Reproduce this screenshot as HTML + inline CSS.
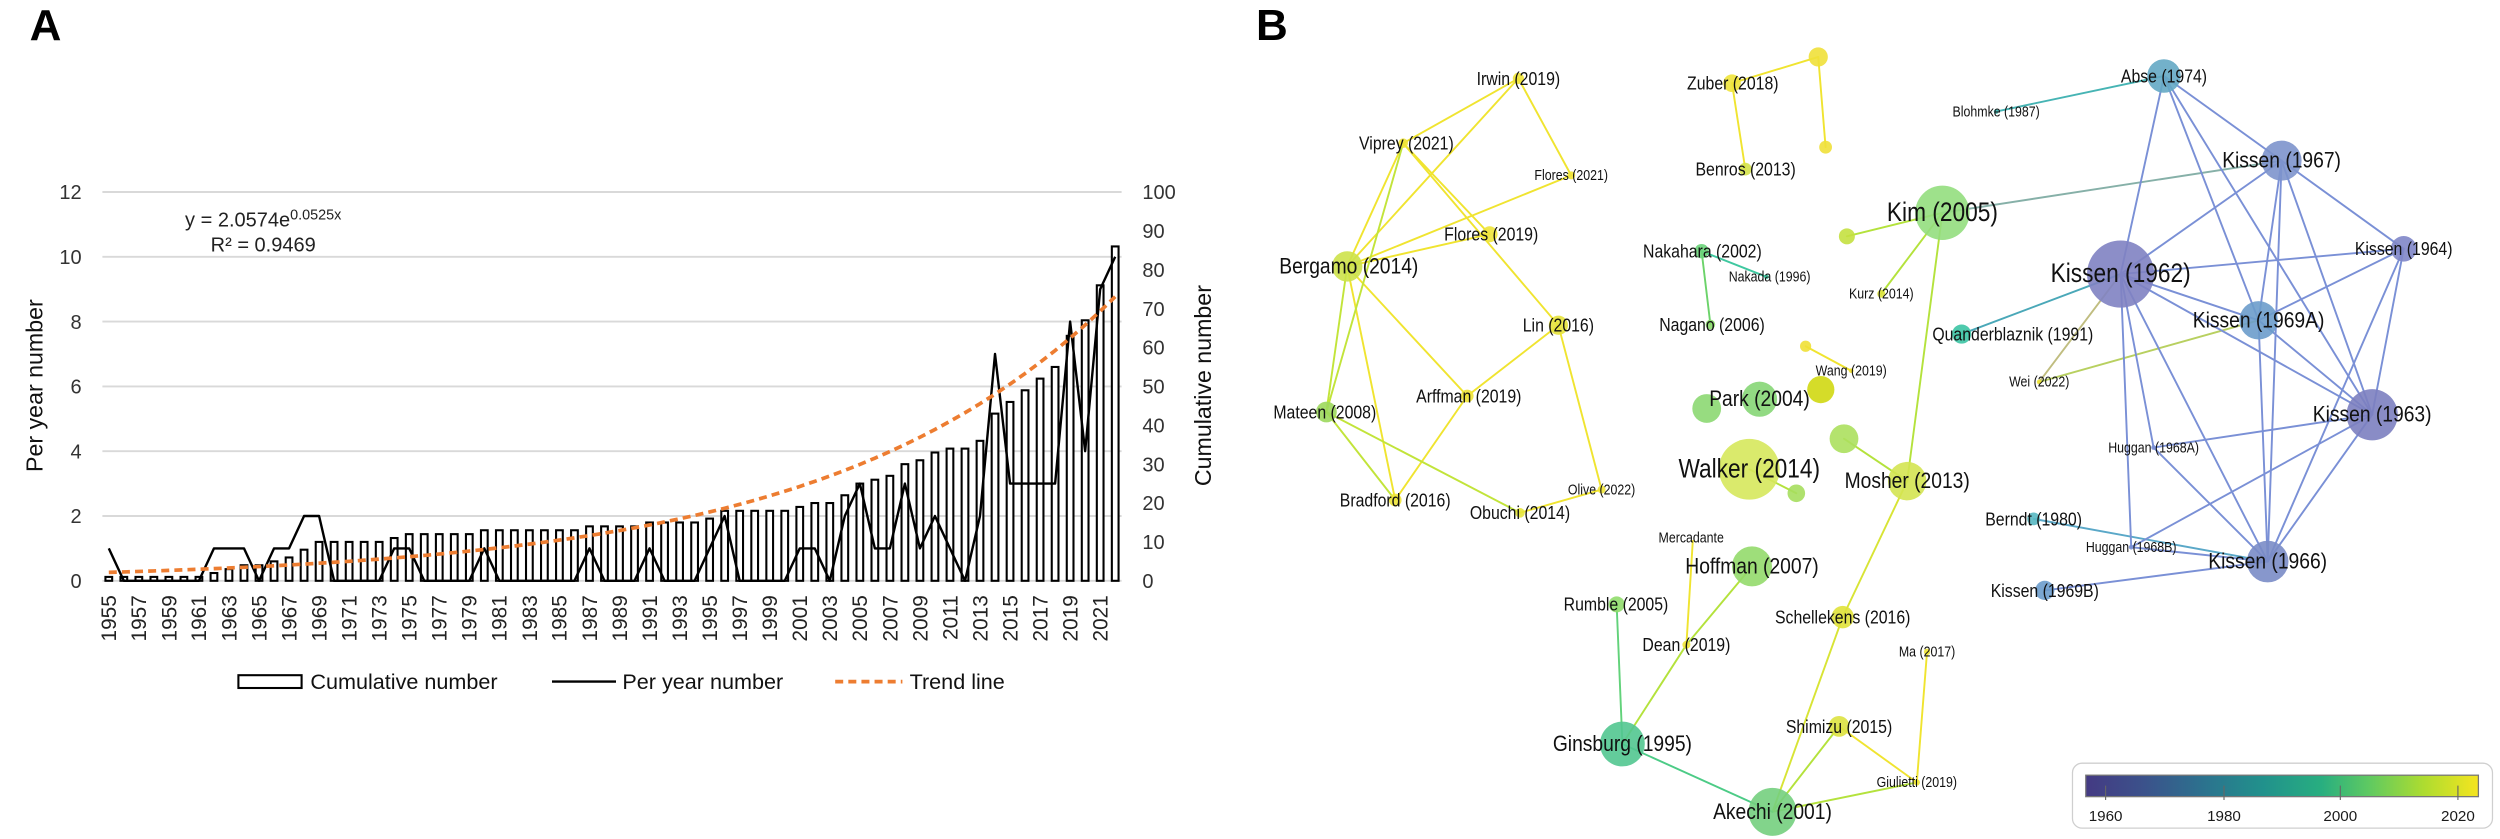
<!DOCTYPE html>
<html><head><meta charset="utf-8">
<style>
html,body{margin:0;padding:0;background:#fff;}
svg{display:block;}
text{font-family:"Liberation Sans",Arial,sans-serif;fill:#1a1a1a;}
.n text{font-family:"Liberation Sans Narrow","Liberation Sans",sans-serif;text-anchor:middle;dominant-baseline:central;fill:#111;transform-box:fill-box;transform-origin:center;transform:scaleX(0.86);}
.big{font-size:16.5px}.med{font-size:14px}.sm{font-size:11.5px}.tn{font-size:9px}
.ax{font-size:12.5px;fill:#333}
.yr{font-size:13px;fill:#222}
.lg{font-size:13.5px;fill:#111}
</style></head>
<body>
<svg width="2500" height="839" viewBox="0 0 1562.5 524.375" xmlns="http://www.w3.org/2000/svg">
<rect width="1562.5" height="524.375" fill="#fff"/>
<!-- Panel A -->
<text x="18.5" y="25" style="font-size:27.5px;font-weight:bold;fill:#000">A</text>
<g stroke="#d9d9d9" stroke-width="1.2">
<line x1="64" x2="701" y1="120" y2="120"/><line x1="64" x2="701" y1="160.5" y2="160.5"/>
<line x1="64" x2="701" y1="201" y2="201"/><line x1="64" x2="701" y1="241.5" y2="241.5"/>
<line x1="64" x2="701" y1="282" y2="282"/><line x1="64" x2="701" y1="322.5" y2="322.5"/>
<line x1="64" x2="701" y1="363" y2="363"/>
</g>
<g class="ax" text-anchor="end">
<text class="ax" x="51" y="124.5">12</text><text class="ax" x="51" y="165">10</text>
<text class="ax" x="51" y="205.5">8</text><text class="ax" x="51" y="246">6</text>
<text class="ax" x="51" y="286.5">4</text><text class="ax" x="51" y="327">2</text>
<text class="ax" x="51" y="367.5">0</text>
</g>
<g>
<text class="ax" x="714" y="124.5">100</text><text class="ax" x="714" y="148.8">90</text>
<text class="ax" x="714" y="173.1">80</text><text class="ax" x="714" y="197.4">70</text>
<text class="ax" x="714" y="221.7">60</text><text class="ax" x="714" y="246">50</text>
<text class="ax" x="714" y="270.3">40</text><text class="ax" x="714" y="294.6">30</text>
<text class="ax" x="714" y="318.9">20</text><text class="ax" x="714" y="343.2">10</text>
<text class="ax" x="714" y="367.5">0</text>
</g>
<text transform="translate(26.5,241) rotate(-90)" text-anchor="middle" style="font-size:14.5px;fill:#111">Per year number</text>
<text transform="translate(757,241) rotate(-90)" text-anchor="middle" style="font-size:14.5px;fill:#111">Cumulative number</text>
<text x="164.5" y="141.7" text-anchor="middle" style="font-size:12.5px;fill:#222">y = 2.0574e<tspan dy="-4.5" style="font-size:9px">0.0525x</tspan></text>
<text x="164.5" y="157.3" text-anchor="middle" style="font-size:12.5px;fill:#222">R² = 0.9469</text>
<g id="bars" fill="#fff" stroke="#000" stroke-width="1.3"></g>
<polyline id="py" fill="none" stroke="#000" stroke-width="1.5" stroke-linejoin="round"/>
<polyline id="tr" fill="none" stroke="#ED7D31" stroke-width="2.3" stroke-dasharray="5,3.2"/>
<g id="yrs">
<text class="yr" transform="translate(72.6,372) rotate(-90)" text-anchor="end">1955</text>
<text class="yr" transform="translate(91.4,372) rotate(-90)" text-anchor="end">1957</text>
<text class="yr" transform="translate(110.2,372) rotate(-90)" text-anchor="end">1959</text>
<text class="yr" transform="translate(128.9,372) rotate(-90)" text-anchor="end">1961</text>
<text class="yr" transform="translate(147.7,372) rotate(-90)" text-anchor="end">1963</text>
<text class="yr" transform="translate(166.5,372) rotate(-90)" text-anchor="end">1965</text>
<text class="yr" transform="translate(185.3,372) rotate(-90)" text-anchor="end">1967</text>
<text class="yr" transform="translate(204.0,372) rotate(-90)" text-anchor="end">1969</text>
<text class="yr" transform="translate(222.8,372) rotate(-90)" text-anchor="end">1971</text>
<text class="yr" transform="translate(241.6,372) rotate(-90)" text-anchor="end">1973</text>
<text class="yr" transform="translate(260.4,372) rotate(-90)" text-anchor="end">1975</text>
<text class="yr" transform="translate(279.1,372) rotate(-90)" text-anchor="end">1977</text>
<text class="yr" transform="translate(297.9,372) rotate(-90)" text-anchor="end">1979</text>
<text class="yr" transform="translate(316.7,372) rotate(-90)" text-anchor="end">1981</text>
<text class="yr" transform="translate(335.5,372) rotate(-90)" text-anchor="end">1983</text>
<text class="yr" transform="translate(354.2,372) rotate(-90)" text-anchor="end">1985</text>
<text class="yr" transform="translate(373.0,372) rotate(-90)" text-anchor="end">1987</text>
<text class="yr" transform="translate(391.8,372) rotate(-90)" text-anchor="end">1989</text>
<text class="yr" transform="translate(410.6,372) rotate(-90)" text-anchor="end">1991</text>
<text class="yr" transform="translate(429.4,372) rotate(-90)" text-anchor="end">1993</text>
<text class="yr" transform="translate(448.1,372) rotate(-90)" text-anchor="end">1995</text>
<text class="yr" transform="translate(466.9,372) rotate(-90)" text-anchor="end">1997</text>
<text class="yr" transform="translate(485.7,372) rotate(-90)" text-anchor="end">1999</text>
<text class="yr" transform="translate(504.5,372) rotate(-90)" text-anchor="end">2001</text>
<text class="yr" transform="translate(523.2,372) rotate(-90)" text-anchor="end">2003</text>
<text class="yr" transform="translate(542.0,372) rotate(-90)" text-anchor="end">2005</text>
<text class="yr" transform="translate(560.8,372) rotate(-90)" text-anchor="end">2007</text>
<text class="yr" transform="translate(579.6,372) rotate(-90)" text-anchor="end">2009</text>
<text class="yr" transform="translate(598.3,372) rotate(-90)" text-anchor="end">2011</text>
<text class="yr" transform="translate(617.1,372) rotate(-90)" text-anchor="end">2013</text>
<text class="yr" transform="translate(635.9,372) rotate(-90)" text-anchor="end">2015</text>
<text class="yr" transform="translate(654.7,372) rotate(-90)" text-anchor="end">2017</text>
<text class="yr" transform="translate(673.4,372) rotate(-90)" text-anchor="end">2019</text>
<text class="yr" transform="translate(692.2,372) rotate(-90)" text-anchor="end">2021</text>
</g>
<!-- legend -->
<rect x="149" y="422" width="39.5" height="8" fill="#fff" stroke="#000" stroke-width="1.3"/>
<text class="lg" x="194" y="430.5">Cumulative number</text>
<line x1="345" x2="385" y1="426" y2="426" stroke="#000" stroke-width="1.5"/>
<text class="lg" x="389" y="430.5">Per year number</text>
<line x1="522" x2="564" y1="426" y2="426" stroke="#ED7D31" stroke-width="2.3" stroke-dasharray="5,3.2"/>
<text class="lg" x="568.5" y="430.5">Trend line</text>

<!-- Panel B -->
<text x="785" y="25" style="font-size:27.5px;font-weight:bold;fill:#000">B</text>
<defs>
<linearGradient id="vir" x1="0" x2="1" y1="0" y2="0">
<stop offset="0" stop-color="#443a83"/><stop offset="0.15" stop-color="#3b528b"/>
<stop offset="0.3" stop-color="#2c728e"/><stop offset="0.45" stop-color="#21918c"/>
<stop offset="0.6" stop-color="#28ae80"/><stop offset="0.72" stop-color="#5ec962"/>
<stop offset="0.86" stop-color="#addc30"/><stop offset="1" stop-color="#f5e51f"/>
</linearGradient>
</defs>
<g fill="none" stroke-width="1.2" stroke-linecap="round">
<g stroke="#f0e430">
<line x1="949" y1="49" x2="877" y2="89.5"/><line x1="949" y1="49" x2="842" y2="166.5"/>
<line x1="949" y1="49" x2="982" y2="109.6"/><line x1="877" y1="89.5" x2="842" y2="166.5"/>
<line x1="877" y1="89.5" x2="931" y2="146.4"/><line x1="877" y1="89.5" x2="974" y2="203.3"/>
<line x1="982" y1="109.6" x2="842" y2="166.5"/><line x1="931" y1="146.4" x2="842" y2="166.5"/>
<line x1="842" y1="166.5" x2="872" y2="312.5"/><line x1="842" y1="166.5" x2="917" y2="247.5"/>
<line x1="974" y1="203.3" x2="917" y2="247.5"/><line x1="974" y1="203.3" x2="1001" y2="306"/>
<line x1="1001" y1="306" x2="950" y2="320.5"/><line x1="917" y1="247.5" x2="872" y2="312.5"/>
</g>
<g stroke="#c2e43a">
<line x1="877" y1="89.5" x2="829" y2="257.5"/><line x1="842" y1="166.5" x2="829" y2="257.5"/>
<line x1="829" y1="257.5" x2="872" y2="312.5"/><line x1="829" y1="257.5" x2="950" y2="320.5"/>
</g>
<g stroke="#f0e430">
<line x1="1082.5" y1="52" x2="1136.4" y2="35.6"/><line x1="1136.4" y1="35.6" x2="1141" y2="92"/>
<line x1="1082.5" y1="52" x2="1090.8" y2="105.7"/>
<line x1="1128.5" y1="216.4" x2="1157" y2="231.7"/>
<line x1="1204.4" y1="407.4" x2="1198" y2="489"/><line x1="1149.4" y1="454" x2="1198" y2="489"/>
<line x1="1054" y1="403" x2="1058" y2="338"/>
</g>
<line x1="1063.5" y1="157" x2="1104" y2="173" stroke="#3fc8a0"/>
<line x1="1063.5" y1="157" x2="1069" y2="202.8" stroke="#6cd36a"/>
<g stroke="#b4e23c">
<line x1="1214" y1="133" x2="1154.3" y2="147.7"/><line x1="1214" y1="133" x2="1175.8" y2="183.6"/>
<line x1="1214" y1="133" x2="1192" y2="300.7"/><line x1="1152.5" y1="274.2" x2="1192" y2="300.7"/>
<line x1="1093.3" y1="293.3" x2="1122.7" y2="308.3"/><line x1="1095" y1="354" x2="1054" y2="403"/>
<line x1="1054" y1="403" x2="1014" y2="465"/><line x1="1107.8" y1="507.4" x2="1149.4" y2="454"/>
<line x1="1107.8" y1="507.4" x2="1198" y2="489"/>
</g>
<g stroke="#d8e435">
<line x1="1192" y1="300.7" x2="1151.7" y2="385.7"/><line x1="1151.7" y1="385.7" x2="1107.8" y2="507.4"/>
</g>
<line x1="1010.4" y1="377.7" x2="1014" y2="465" stroke="#62d27a"/>
<line x1="1014" y1="465" x2="1107.8" y2="507.4" stroke="#4ccb86"/>
<line x1="1214" y1="133" x2="1426" y2="100.4" stroke="#86b0a8"/>
<line x1="1247.6" y1="69.7" x2="1352.5" y2="47.5" stroke="#46b4b4"/>
<line x1="1226" y1="208.8" x2="1325.4" y2="171.3" stroke="#4aa8b8"/>
<line x1="1274.5" y1="238.7" x2="1325.4" y2="171.3" stroke="#c0bd80"/>
<line x1="1274.5" y1="238.7" x2="1411.6" y2="200.2" stroke="#b8d060"/>
<line x1="1271" y1="324.3" x2="1417.3" y2="351" stroke="#5aa8c8"/>
<g stroke="#7a90d6">
<line x1="1352.5" y1="47.5" x2="1325.4" y2="171.3"/><line x1="1352.5" y1="47.5" x2="1426" y2="100.4"/>
<line x1="1352.5" y1="47.5" x2="1411.6" y2="200.2"/><line x1="1352.5" y1="47.5" x2="1482.6" y2="259.2"/>
<line x1="1426" y1="100.4" x2="1325.4" y2="171.3"/><line x1="1426" y1="100.4" x2="1411.6" y2="200.2"/>
<line x1="1426" y1="100.4" x2="1417.3" y2="351"/><line x1="1426" y1="100.4" x2="1502.3" y2="155.5"/>
<line x1="1426" y1="100.4" x2="1482.6" y2="259.2"/>
<line x1="1325.4" y1="171.3" x2="1502.3" y2="155.5"/><line x1="1325.4" y1="171.3" x2="1411.6" y2="200.2"/>
<line x1="1325.4" y1="171.3" x2="1482.6" y2="259.2"/><line x1="1325.4" y1="171.3" x2="1417.3" y2="351"/>
<line x1="1325.4" y1="171.3" x2="1346" y2="279.7"/><line x1="1325.4" y1="171.3" x2="1332" y2="342"/>
<line x1="1411.6" y1="200.2" x2="1502.3" y2="155.5"/><line x1="1411.6" y1="200.2" x2="1482.6" y2="259.2"/>
<line x1="1411.6" y1="200.2" x2="1417.3" y2="351"/>
<line x1="1502.3" y1="155.5" x2="1482.6" y2="259.2"/><line x1="1502.3" y1="155.5" x2="1417.3" y2="351"/>
<line x1="1482.6" y1="259.2" x2="1346" y2="279.7"/><line x1="1482.6" y1="259.2" x2="1417.3" y2="351"/>
<line x1="1482.6" y1="259.2" x2="1332" y2="342"/><line x1="1346" y1="279.7" x2="1417.3" y2="351"/>
<line x1="1332" y1="342" x2="1417.3" y2="351"/><line x1="1278" y1="369" x2="1417.3" y2="351"/>
</g>
</g>
<g fill-opacity="0.9">
<circle cx="949" cy="49" r="3.5" fill="#f0e436"/><circle cx="877" cy="89.5" r="3" fill="#f0e436"/>
<circle cx="982" cy="109.6" r="2.5" fill="#f0e436"/><circle cx="931" cy="146.4" r="5" fill="#eee43a"/>
<circle cx="842" cy="166.5" r="9.5" fill="#cde24a"/><circle cx="974" cy="203.3" r="6" fill="#e6e23c"/>
<circle cx="917" cy="247.5" r="4" fill="#f0e436"/><circle cx="829" cy="257.5" r="6.5" fill="#9cd85c"/>
<circle cx="1001" cy="306" r="2.5" fill="#f0e436"/><circle cx="872" cy="312.5" r="4" fill="#eee43a"/>
<circle cx="950" cy="320.5" r="3" fill="#e6e43c"/>
<circle cx="1136.4" cy="35.6" r="6" fill="#f0e03a"/><circle cx="1082.5" cy="52" r="5.5" fill="#f0e43a"/>
<circle cx="1141" cy="92" r="4" fill="#f0e03a"/><circle cx="1090.8" cy="105.7" r="4" fill="#d4e24a"/>
<circle cx="1214" cy="133" r="17" fill="#94de7e"/><circle cx="1154.3" cy="147.7" r="5" fill="#c4e040"/>
<circle cx="1063.5" cy="157" r="4.5" fill="#6cd47a"/><circle cx="1104" cy="173" r="1.5" fill="#3fc8a0"/>
<circle cx="1175.8" cy="183.6" r="2.5" fill="#dce23c"/><circle cx="1069" cy="202.8" r="3" fill="#8cdc6c"/>
<circle cx="1226" cy="208.8" r="6" fill="#3cc4a4"/><circle cx="1128.5" cy="216.4" r="3.5" fill="#f0e036"/>
<circle cx="1157" cy="231.7" r="1.5" fill="#f0e036"/>
<circle cx="1138" cy="243.5" r="8.5" fill="#d0d812"/><circle cx="1099.7" cy="249.5" r="11" fill="#86d676"/>
<circle cx="1066.7" cy="255.3" r="9" fill="#8cd872"/><circle cx="1152.5" cy="274.2" r="9" fill="#ace05e"/>
<circle cx="1093.3" cy="293.3" r="19" fill="#d6e85c"/><circle cx="1192" cy="300.7" r="12" fill="#d4e452"/>
<circle cx="1122.7" cy="308.3" r="5.5" fill="#a6de5e"/><circle cx="1095" cy="354" r="12.5" fill="#94da6c"/>
<circle cx="1010.4" cy="377.7" r="5" fill="#90dc6c"/><circle cx="1054" cy="403" r="2.5" fill="#f0e436"/>
<circle cx="1151.7" cy="385.7" r="7" fill="#e0e23a"/><circle cx="1204.4" cy="407.4" r="2" fill="#f0e436"/>
<circle cx="1014" cy="465" r="14" fill="#52c690"/><circle cx="1149.4" cy="454" r="6.5" fill="#dde240"/>
<circle cx="1198" cy="489" r="2" fill="#f0e436"/><circle cx="1107.8" cy="507.4" r="15" fill="#74cf7e"/>
<circle cx="1352.5" cy="47.5" r="10.5" fill="#64a8c4"/><circle cx="1247.6" cy="69.7" r="1.5" fill="#40b8b0"/>
<circle cx="1426" cy="100.4" r="12.5" fill="#7d93cc"/><circle cx="1502.3" cy="155.5" r="8" fill="#7f86c8"/>
<circle cx="1325.4" cy="171.3" r="21" fill="#7f82c2"/><circle cx="1411.6" cy="200.2" r="12" fill="#6c9ccb"/>
<circle cx="1274.5" cy="238.7" r="1.5" fill="#f0e436"/><circle cx="1482.6" cy="259.2" r="16" fill="#7c80c0"/>
<circle cx="1346" cy="279.7" r="1.5" fill="#7a90d6"/><circle cx="1271" cy="324.3" r="4" fill="#58b8c2"/>
<circle cx="1332" cy="342" r="1.5" fill="#7a90d6"/><circle cx="1417.3" cy="351" r="13" fill="#7a8cc6"/>
<circle cx="1278" cy="369" r="6" fill="#6c9ccc"/>
</g>
<g class="n">
<text class="sm" x="949" y="49">Irwin (2019)</text>
<text class="sm" x="879" y="89.5">Viprey (2021)</text>
<text class="tn" x="982" y="109.6">Flores (2021)</text>
<text class="sm" x="932" y="146.4">Flores (2019)</text>
<text class="med" x="843" y="166.5">Bergamo (2014)</text>
<text class="sm" x="974" y="203.3">Lin (2016)</text>
<text class="sm" x="918" y="247.5">Arffman (2019)</text>
<text class="sm" x="828" y="257.5">Mateen (2008)</text>
<text class="tn" x="1001" y="306">Olive (2022)</text>
<text class="sm" x="872" y="312.5">Bradford (2016)</text>
<text class="sm" x="950" y="320.5">Obuchi (2014)</text>
<text class="sm" x="1083" y="52">Zuber (2018)</text>
<text class="sm" x="1091" y="105.7">Benros (2013)</text>
<text class="big" x="1214" y="133">Kim (2005)</text>
<text class="sm" x="1064" y="157">Nakahara (2002)</text>
<text class="tn" x="1106" y="173">Nakada (1996)</text>
<text class="tn" x="1175.8" y="183.6">Kurz (2014)</text>
<text class="sm" x="1070" y="202.8">Nagano (2006)</text>
<text class="sm" x="1258" y="208.8">Quanderblaznik (1991)</text>
<text class="tn" x="1157" y="231.7">Wang (2019)</text>
<text class="med" x="1099.7" y="249.5">Park (2004)</text>
<text class="big" x="1093.3" y="293.3">Walker (2014)</text>
<text class="med" x="1192" y="300.7">Mosher (2013)</text>
<text class="tn" x="1057" y="336">Mercadante</text>
<text class="med" x="1095" y="354">Hoffman (2007)</text>
<text class="sm" x="1010" y="377.7">Rumble (2005)</text>
<text class="sm" x="1151.7" y="385.7">Schellekens (2016)</text>
<text class="sm" x="1054" y="403">Dean (2019)</text>
<text class="tn" x="1204.4" y="407.4">Ma (2017)</text>
<text class="med" x="1014" y="465">Ginsburg (1995)</text>
<text class="sm" x="1149.4" y="454">Shimizu (2015)</text>
<text class="tn" x="1198" y="489">Giulietti (2019)</text>
<text class="med" x="1107.8" y="507.4">Akechi (2001)</text>
<text class="sm" x="1352.5" y="47.5">Abse (1974)</text>
<text class="tn" x="1247.6" y="69.7">Blohmke (1987)</text>
<text class="med" x="1426" y="100.4">Kissen (1967)</text>
<text class="sm" x="1502.3" y="155.5">Kissen (1964)</text>
<text class="big" x="1325.4" y="171.3">Kissen (1962)</text>
<text class="med" x="1411.6" y="200.2">Kissen (1969A)</text>
<text class="tn" x="1274.5" y="238.7">Wei (2022)</text>
<text class="med" x="1482.6" y="259.2">Kissen (1963)</text>
<text class="tn" x="1346" y="279.7">Huggan (1968A)</text>
<text class="sm" x="1271" y="324.3">Berndt (1980)</text>
<text class="tn" x="1332" y="342">Huggan (1968B)</text>
<text class="med" x="1417.3" y="351">Kissen (1966)</text>
<text class="sm" x="1278" y="369">Kissen (1969B)</text>
</g>
<rect x="1295.3" y="477" width="262.5" height="40.6" rx="6" fill="#fff" stroke="#cfcfcf" stroke-width="0.8"/>
<rect x="1303.6" y="484.5" width="245.4" height="13.4" fill="url(#vir)" stroke="#777" stroke-width="0.8"/>
<g stroke="#666" stroke-width="0.7">
<line x1="1316" x2="1316" y1="491" y2="500"/><line x1="1390" x2="1390" y1="491" y2="500"/>
<line x1="1462.7" x2="1462.7" y1="491" y2="500"/><line x1="1536.2" x2="1536.2" y1="491" y2="500"/>
</g>
<g style="font-size:9.5px;fill:#444" text-anchor="middle">
<text x="1316" y="513">1960</text><text x="1390" y="513">1980</text>
<text x="1462.7" y="513">2000</text><text x="1536.2" y="513">2020</text>
</g>
</svg>
<script>
(function(){
var p=[1,0,0,0,0,0,0,1,1,1,0,1,1,2,2,0,0,0,0,1,1,0,0,0,0,1,0,0,0,0,0,0,1,0,0,0,1,0,0,0,1,2,0,0,0,0,1,1,0,2,3,1,1,3,1,2,1,0,2,7,3,3,3,3,8,4,9,10];
var ns="http://www.w3.org/2000/svg",g=document.getElementById("bars"),c=0,pl=[],tr=[];
for(var i=0;i<p.length;i++){
 c+=p[i];var xc=68+i*9.388;var h=c*2.43;
 var r=document.createElementNS(ns,"rect");
 r.setAttribute("x",(xc-2.1).toFixed(2));r.setAttribute("y",(363-h).toFixed(2));
 r.setAttribute("width","4.2");r.setAttribute("height",h.toFixed(2));g.appendChild(r);
 pl.push(xc.toFixed(2)+","+(363-p[i]*20.25).toFixed(2));
 tr.push(xc.toFixed(2)+","+(363-2.0574*Math.exp(0.0525*(i+1))*2.43).toFixed(2));
}
document.getElementById("py").setAttribute("points",pl.join(" "));
document.getElementById("tr").setAttribute("points",tr.join(" "));
})();
</script>
</body></html>
